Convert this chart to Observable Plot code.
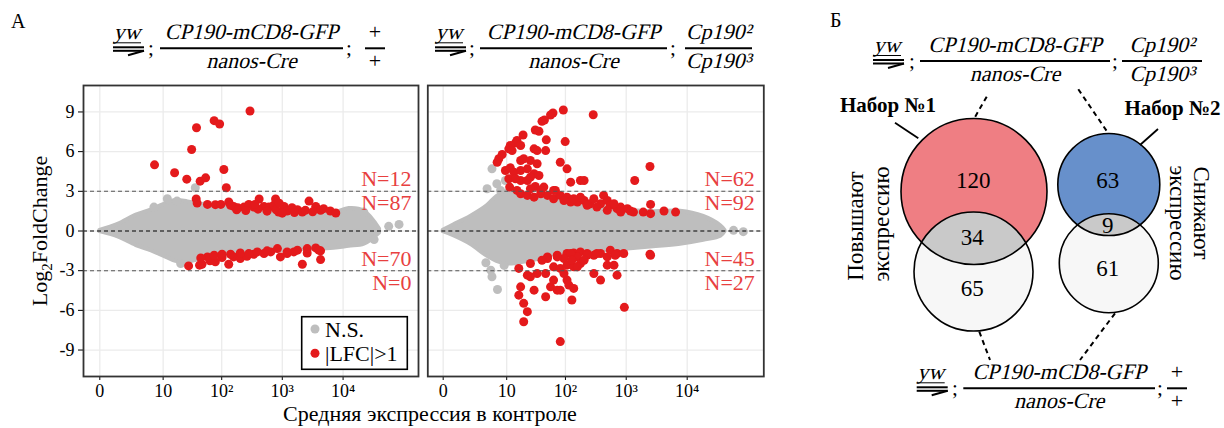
<!DOCTYPE html>
<html><head><meta charset="utf-8">
<script src="https://cdn.jsdelivr.net/npm/d3@7"></script>
<script src="https://cdn.jsdelivr.net/npm/@observablehq/plot@0.6"></script>
<style>
html,body{margin:0;padding:0;background:#fff;}
#root{position:relative;width:1224px;height:428px;overflow:hidden;font-family:"Liberation Serif",serif;background:#fff;}
#root > *{position:absolute;}
</style></head><body><div id="root"></div>
<script>
// ---------- data ----------
const xTickValues = [0, 10, 100, 1000, 10000];
const xTickLabels = ["0", "10", "10²", "10³", "10⁴"];
const yTickValues = [-9, -6, -3, 0, 3, 6, 9];
const thresholds = [-3, 3];

// x = log10(mean expression in control + 1), y = log2 fold change
// Panel A, left: yw; CP190-mCD8-GFP/nanos-Cre; +/+
const wtCloudX  = [0, 0.3, 0.6, 0.85, 1.05, 1.25, 1.45, 1.7, 2.2, 2.75, 3.3, 3.85, 4.1, 4.35, 4.6];
const wtCloudHi = [0.05, 0.5, 1.2, 1.6, 2.0, 2.3, 2.2, 2.0, 1.75, 1.55, 1.35, 1.35, 1.7, 1.5, 0.15];
const wtCloudLo = [-0.05, -0.45, -1.1, -1.5, -1.9, -2.3, -2.35, -2.1, -1.75, -1.55, -1.4, -1.3, -1.15, -1.0, -0.15];
const wtGrey = [[0.89,1.81],[1.11,2.44],[1.27,2.26],[1.57,3.27],[1.33,-2.46],[4.75,0.35],[4.92,0.5],[4.51,-0.65],[4.34,1.43]];
const wtRed = [
  [0.90,5.0],[1.23,4.4],[1.43,3.92],[1.51,6.16],[1.59,7.81],[1.65,3.77],[1.74,4.02],[1.88,8.34],[1.97,8.09],[2.04,4.65],[2.08,3.27],[2.47,9.07],
  [1.585,2.42],[1.60,2.11],[1.77,2.01],[1.90,1.99],[1.99,2.01],[2.12,2.19],[2.20,1.86],[2.27,1.76],[2.37,1.81],[2.45,2.01],[2.53,1.81],[2.62,2.42],
  [2.70,1.86],[2.78,1.81],[2.86,1.94],[2.89,2.42],[2.94,1.43],[3.03,1.86],[3.08,1.51],[3.16,1.76],[3.25,1.61],[3.33,1.43],[3.38,1.56],[3.44,2.26],
  [3.55,1.86],[3.63,1.56],[3.68,1.69],[3.79,1.51],[3.88,1.36],[2.25,1.6],[2.4,1.55],[2.6,1.65],[2.75,1.5],[2.9,1.6],[3.0,1.35],[3.2,1.4],[3.5,1.45],
  [2.15,1.95],[2.55,2.0],[2.95,2.1],
  [1.46,-2.64],[1.64,-2.58],[1.68,-2.51],[1.81,-2.25],[1.90,-2.33],[2.01,-2.01],[2.12,-2.51],[2.20,-1.96],[2.31,-2.08],[2.42,-1.91],[2.53,-1.76],
  [2.70,-1.70],[2.81,-1.58],[2.97,-1.96],[3.08,-1.70],[3.19,-1.58],[3.33,-2.51],[3.41,-1.66],[3.63,-2.16],[3.63,-1.50],[1.77,-1.96],[1.88,-1.83],
  [2.01,-1.76],[2.15,-1.76],[2.31,-1.66],[2.45,-1.71],[2.59,-1.58],[2.75,-1.50],[2.92,-1.33],[3.08,-1.58],[3.25,-1.45],[3.41,-1.33],[3.55,-1.28],[3.60,-1.45],[1.66,-2.04]
];
const wtCountsOuter = [12, 0];   // LFC > 3, LFC < -3
const wtCountsInner = [87, 70];  // 1 < LFC < 3, -3 < LFC < -1

// Panel A, right: yw; CP190-mCD8-GFP/nanos-Cre; Cp190^2/Cp190^3
const mutCloudX  = [0, 0.17, 0.45, 0.72, 0.88, 1.05, 1.27, 1.6, 1.81, 2.36, 2.91, 3.45, 3.89, 4.27, 4.55, 4.62];
const mutCloudHi = [0.05, 0.45, 1.1, 1.9, 2.6, 3.0, 2.9, 2.6, 2.35, 1.95, 1.6, 1.45, 1.5, 1.1, 0.4, 0.05];
const mutCloudLo = [-0.05, -0.35, -1.0, -1.9, -2.3, -2.5, -2.4, -2.1, -1.8, -1.6, -1.4, -1.2, -1.0, -0.7, -0.4, -0.05];
const mutGrey = [[0.80,4.70],[0.72,3.19],[0.88,3.57],[1.02,3.82],[0.94,3.07],[0.78,-2.96],[0.80,-3.46],[0.89,-4.42],[4.76,0.05],[4.92,-0.05],[0.7,-2.4],[1.0,-2.6]];
const mutRed = [
  [1.97,9.15],[2.46,8.79],[1.80,8.92],[1.76,8.77],[1.66,8.39],[1.62,8.29],[1.51,7.64],[1.57,7.54],[1.31,7.26],[1.69,6.89],[2.00,6.76],[1.21,6.84],
  [1.185,6.66],[1.10,6.46],[1.27,6.46],[1.076,6.21],[1.13,6.08],[1.49,6.21],[1.54,6.08],[1.68,6.08],[0.967,5.78],[0.912,5.46],[0.885,5.20],[1.27,5.33],
  [1.32,5.46],[1.43,5.33],[1.54,5.08],[1.92,5.20],[2.03,4.70],[1.02,4.57],[1.10,4.78],[1.16,4.45],[1.38,4.70],[1.49,4.33],[1.57,4.20],[1.076,3.95],
  [1.27,3.82],[1.38,3.82],[2.09,3.69],[2.25,3.82],[2.31,3.82],[3.14,3.82],[3.39,4.88],[1.09,3.32],[1.51,3.37],[1.65,3.32],[1.84,3.07],[1.185,3.95],
  [1.43,4.07],[1.27,4.57],[1.43,3.19],
  [1.21,3.07],[1.27,2.82],[1.38,2.69],[1.49,2.56],[1.60,2.82],[1.71,2.69],[1.81,2.44],[1.92,2.69],[2.03,2.56],[2.09,2.19],[2.20,2.19],[2.31,2.31],
  [2.41,2.06],[2.47,2.44],[2.58,2.06],[2.63,2.69],[2.69,2.31],[2.74,1.94],[2.85,1.69],[2.91,1.81],[3.02,1.69],[3.07,1.51],[3.12,1.43],[3.28,1.43],
  [3.40,2.01],[3.40,1.31],[3.62,1.51],[3.81,1.43],[1.60,3.07],[1.81,3.07],[2.25,2.56],[2.36,1.94],[2.52,1.81],[2.69,1.56],[2.91,1.43],[2.80,2.06],
  [2.14,2.44],[1.98,2.31],
  [1.71,-1.96],[1.87,-1.83],[2.03,-1.70],[2.14,-1.66],[2.25,-1.58],[2.36,-1.70],[2.47,-1.83],[2.58,-1.70],[2.74,-1.45],[2.85,-1.70],[2.96,-1.70],
  [3.39,-1.76],[2.82,-1.83],[2.69,-1.96],[2.52,-1.70],[2.36,-1.83],[2.20,-1.96],[2.09,-1.70],[1.98,-2.08],[1.87,-1.96],[1.71,-2.08],[1.62,-2.21],
  [1.43,-2.46],[1.24,-2.83],[1.54,-3.21],[1.68,-3.21],[1.81,-2.71],[1.92,-2.83],[2.03,-2.58],[2.14,-2.71],[2.25,-2.46],[2.47,-3.21],[2.58,-3.71],
  [2.69,-2.58],[2.80,-2.58],[2.85,-3.34],[1.27,-4.22],[1.24,-4.85],[1.43,-3.46],[1.49,-4.47],[1.68,-4.97],[1.76,-4.22],[1.87,-4.47],[1.92,-4.47],
  [2.03,-3.71],[2.06,-4.09],[2.14,-4.34],[2.11,-5.22],[1.32,-5.47],[1.38,-6.10],[1.32,-6.86],[2.97,-5.77],[1.92,-8.36],[1.38,-3.34],[3.40,-1.83],
  [2.11,-2.21],[2.31,-2.21],[2.20,-2.71],[1.98,-3.21],[1.81,-3.71]
];
const mutCountsOuter = [62, 27];
const mutCountsInner = [92, 45];

// Panel Б: Venn counts
const vennSet1 = [120, 34, 65];
const vennSet2 = [63, 9, 61];

// ---------- helpers ----------
const root = document.getElementById("root");
const FONT = "Liberation Serif";
const xTickPos = xTickValues.map(t => Math.log10(t + 1));
const fmtX = d => { const i = xTickPos.findIndex(p => Math.abs(p - d) < 1e-9); return i >= 0 ? xTickLabels[i] : ""; };
const RED = "#e41a1c", GREY = "#bebebe", NCOL = "#e8403f";

function place(node, left, top) { node.style.left = left + "px"; node.style.top = top + "px"; root.appendChild(node); return node; }

function maPlot(o) {
  // above +3 : outer[0]; below +3: inner[0]; above -3: inner[1]; below -3: outer[1]
  const upperTexts = [o.outer[0], o.inner[1]];
  const lowerTexts = [o.inner[0], o.outer[1]];
  const cloud = o.cloudX.map((x, i) => ({x, hi: o.hi[i], lo: o.lo[i]}));
  const fmtN = n => "N=" + n;
  return Plot.plot({
    width: o.width, height: 330, marginTop: 5, marginBottom: 34, marginLeft: o.marginLeft, marginRight: o.marginRight,
    style: {fontFamily: FONT, fontSize: "18px", color: "#000", background: "none", overflow: "visible"},
    x: {domain: o.domain, ticks: xTickPos, tickFormat: fmtX, tickSize: 4, tickPadding: 4, label: null},
    y: o.showY ? {domain: [-11, 11], ticks: yTickValues, tickFormat: d => String(d), tickSize: 5, tickPadding: 4, label: null}
               : {domain: [-11, 11], axis: null},
    marks: [
      Plot.ruleX(xTickPos, {stroke: "#ebebeb", strokeWidth: 1.3}),
      Plot.ruleY(yTickValues, {stroke: "#ebebeb", strokeWidth: 1.3}),
      Plot.areaY(cloud, {x: "x", y1: "lo", y2: "hi", fill: GREY, stroke: GREY, strokeWidth: 4, strokeLinejoin: "round", curve: "catmull-rom"}),
      Plot.dot(o.grey, {x: d => d[0], y: d => d[1], r: 4.5, fill: GREY}),
      Plot.dot(o.red, {x: d => d[0], y: d => d[1], r: 4.5, fill: RED}),
      Plot.ruleY(thresholds, {stroke: "#555", strokeDasharray: "4,3", strokeWidth: 1.1}),
      Plot.ruleY([0], {stroke: "#000", strokeDasharray: "4,3", strokeWidth: 1.1}),
      Plot.text(upperTexts, {y: [3, -3], text: fmtN, frameAnchor: "right", textAnchor: "end", dx: -o.inset, dy: -12, fontSize: 22, fill: NCOL}),
      Plot.text(lowerTexts, {y: [3, -3], text: fmtN, frameAnchor: "right", textAnchor: "end", dx: -o.inset, dy: 12, fontSize: 22, fill: NCOL}),
      Plot.frame({stroke: "#333", strokeWidth: 1.8})
    ]
  });
}

place(maPlot({cloudX: wtCloudX, hi: wtCloudHi, lo: wtCloudLo, grey: wtGrey, red: wtRed, outer: wtCountsOuter, inner: wtCountsInner,
  showY: true, width: 420, marginLeft: 83, marginRight: 2, domain: [-0.268, 5.24], inset: 7}), 0, 80);
place(maPlot({cloudX: mutCloudX, hi: mutCloudHi, lo: mutCloudLo, grey: mutGrey, red: mutRed, outer: mutCountsOuter, inner: mutCountsInner,
  showY: false, width: 350, marginLeft: 7.3, marginRight: 6.7, domain: [-0.252, 5.256], inset: 9}), 420, 80);

// ---------- Venn (panel Б) ----------
const vennCircles = [
  {cx: 973.5, cy: 191, r: 73, fill: "#ef7e83"},
  {cx: 973, cy: 271, r: 59.5, fill: "#f7f7f7"},
  {cx: 1108.3, cy: 184, r: 51, fill: "#6790cb"},
  {cx: 1108.3, cy: 262.7, r: 49.5, fill: "#f7f7f7"}
];
const vennLabelPos = [[972.7,180],[971.7,237],[971.7,288.5],[1107.3,180],[1107.3,225],[1107.3,268]];
const vennCounts = [...vennSet1, ...vennSet2];
function lens(a, b, n = 720) {
  const pts = [];
  for (let i = 0; i < n; i++) {
    const t = 2 * Math.PI * i / n;
    const p = [b.cx + b.r * Math.cos(t), b.cy + b.r * Math.sin(t)];
    if (Math.hypot(p[0] - a.cx, p[1] - a.cy) <= a.r) pts.push(p);
    const q = [a.cx + a.r * Math.cos(t), a.cy + a.r * Math.sin(t)];
    if (Math.hypot(q[0] - b.cx, q[1] - b.cy) <= b.r) pts.push(q);
  }
  const mx = d3.mean(pts, p => p[0]), my = d3.mean(pts, p => p[1]);
  pts.sort((p, q) => Math.atan2(p[1] - my, p[0] - mx) - Math.atan2(q[1] - my, q[0] - mx));
  return pts;
}
const venn = Plot.plot({
  width: 404, height: 428, margin: 0,
  style: {fontFamily: FONT, background: "none", overflow: "visible"},
  x: {domain: [820, 1224], range: [0, 404], axis: null},
  y: {domain: [0, 428], range: [0, 428], axis: null},
  r: {type: "identity"},
  color: {type: "identity"},
  marks: [
    Plot.dot(vennCircles, {x: "cx", y: "cy", r: "r", fill: "fill"}),
    Plot.line(lens(vennCircles[0], vennCircles[1]), {x: d => d[0], y: d => d[1], fill: "#c9c9c9", stroke: "none", curve: "linear-closed"}),
    Plot.line(lens(vennCircles[2], vennCircles[3]), {x: d => d[0], y: d => d[1], fill: "#c9c9c9", stroke: "none", curve: "linear-closed"}),
    Plot.dot(vennCircles, {x: "cx", y: "cy", r: "r", fill: "none", stroke: "#000", strokeWidth: 1.6}),
    Plot.text(vennCounts, {x: (d, i) => vennLabelPos[i][0], y: (d, i) => vennLabelPos[i][1], text: d => String(d), fontSize: 23, fill: "#000"})
  ]
});
place(venn, 820, 0);

// ---------- annotation overlay ----------
const NS = "http://www.w3.org/2000/svg";
const svg = document.createElementNS(NS, "svg");
svg.setAttribute("width", 1224); svg.setAttribute("height", 428);
svg.style.pointerEvents = "none";
place(svg, 0, 0);
function el(tag, attrs, text, parent = svg) {
  const e = document.createElementNS(NS, tag);
  for (const k in attrs) e.setAttribute(k, attrs[k]);
  if (text != null) e.textContent = text;
  parent.appendChild(e); return e;
}
function txt(x, y, s, o = {}) {
  return el("text", Object.assign({x, y, "font-size": 20, fill: "#000", "font-family": FONT}, o), s);
}
// slanted serif text (italic look, built from the upright serif face)
function itxt(x, y, s, size = 22) {
  return el("text", {transform: `translate(${x},${y}) skewX(-14)`, x: 0, y: 0, "text-anchor": "middle", "font-size": size, fill: "#000", "font-family": FONT}, s);
}
function line(x1, y1, x2, y2, o = {}) {
  return el("line", Object.assign({x1, y1, x2, y2, stroke: "#000", "stroke-width": 1.5}, o));
}

// genotype notation
function genotype(g) {
  const b = g.barY;
  itxt(g.ywX + g.ywW / 2, b - 9, "yw");
  line(g.ywX, b - 5.5, g.ywX + g.ywW, b - 5.5, {"stroke-width": 1});
  line(g.ywX, b - 1, g.ywX + g.ywW + 3, b - 1, {"stroke-width": 2});
  line(g.ywX, b + 2.5, g.ywX + g.ywW + 3, b + 2.5, {"stroke-width": 2});
  line(g.ywX + g.ywW - 13, b + 7, g.ywX + g.ywW + 3, b + 2.5, {"stroke-width": 2});
  txt(g.sep1, b + 7, ";", {"font-size": 21, "text-anchor": "middle"});
  line(g.bar1[0], b, g.bar1[1], b, {"stroke-width": 2});
  itxt((g.bar1[0] + g.bar1[1]) / 2, b - 9, g.num1);
  itxt((g.bar1[0] + g.bar1[1]) / 2, b + 20, g.den1);
  txt(g.sep2, b + 7, ";", {"font-size": 21, "text-anchor": "middle"});
  line(g.bar2[0], b, g.bar2[1], b, {"stroke-width": 2});
  const cx2 = (g.bar2[0] + g.bar2[1]) / 2;
  if (g.num2 === "+") {
    txt(cx2, b - 9, g.num2, {"text-anchor": "middle", "font-size": 22});
    txt(cx2, b + 20, g.den2, {"text-anchor": "middle", "font-size": 22});
  } else {
    itxt(cx2, b - 9, g.num2);
    itxt(cx2, b + 20, g.den2);
  }
}
const G_TG = "CP190-mCD8-GFP", G_DRV = "nanos-Cre";
genotype({ywX: 113, ywW: 28, barY: 48.3, sep1: 151, bar1: [160, 343], num1: G_TG, den1: G_DRV, sep2: 349, bar2: [365, 385], num2: "+", den2: "+"});
genotype({ywX: 435, ywW: 28, barY: 48.3, sep1: 472, bar1: [480, 667], num1: G_TG, den1: G_DRV, sep2: 673, bar2: [685, 752], num2: "Cp190²", den2: "Cp190³"});
genotype({ywX: 873, ywW: 28, barY: 61, sep1: 912, bar1: [920, 1110], num1: G_TG, den1: G_DRV, sep2: 1115, bar2: [1122, 1202], num2: "Cp190²", den2: "Cp190³"});
genotype({ywX: 916.7, ywW: 28, barY: 388.3, sep1: 955, bar1: [963.3, 1155], num1: G_TG, den1: G_DRV, sep2: 1160, bar2: [1167, 1187], num2: "+", den2: "+"});

// panel letters
txt(11, 28, "А", {"font-size": 20});
txt(830, 27, "Б", {"font-size": 20});

// axis titles
const yl = el("text", {transform: "translate(47,231) rotate(-90)", "text-anchor": "middle", "font-size": 22, fill: "#000", "font-family": FONT});
el("tspan", {}, "Log", yl);
el("tspan", {"font-size": 15, dy: 5}, "2", yl);
el("tspan", {dy: -5}, "FoldChange", yl);
txt(430, 421, "Средняя экспрессия в контроле", {"text-anchor": "middle", "font-size": 22});

// legend
el("rect", {x: 301.7, y: 316.7, width: 105.6, height: 52.6, fill: "#fff", stroke: "#000", "stroke-width": 1.6});
el("circle", {cx: 315, cy: 329, r: 4.5, fill: GREY});
txt(325, 336.5, "N.S.", {"font-size": 22});
el("circle", {cx: 315, cy: 353.3, r: 4.5, fill: RED});
txt(325, 360.8, "|LFC|>1", {"font-size": 22});

// Venn annotations
txt(888, 111.7, "Набор №1", {"text-anchor": "middle", "font-size": 21, "font-weight": "bold"});
txt(1172.5, 115, "Набор №2", {"text-anchor": "middle", "font-size": 21, "font-weight": "bold"});
line(895, 122.7, 918.3, 138.3, {"stroke-width": 1.8});
line(1158, 129, 1140, 145, {"stroke-width": 1.8});
const dash = {"stroke-width": 2, "stroke-dasharray": "5,4"};
line(986.7, 96.7, 975, 117, dash);
line(1078.3, 89.3, 1106.7, 131, dash);
line(979.3, 331.7, 990, 360, dash);
line(1115, 313.3, 1080, 360, dash);
const rot = (x, y, a, s) => el("text", {transform: `translate(${x},${y}) rotate(${a})`, "text-anchor": "middle", "font-size": 23, fill: "#000", "font-family": FONT}, s);
rot(863, 226, -90, "Повышают");
rot(889, 224, -90, "экспрессию");
rot(1194, 213, 90, "Снижают");
rot(1170, 223, 90, "экспрессию");
</script></body></html>
